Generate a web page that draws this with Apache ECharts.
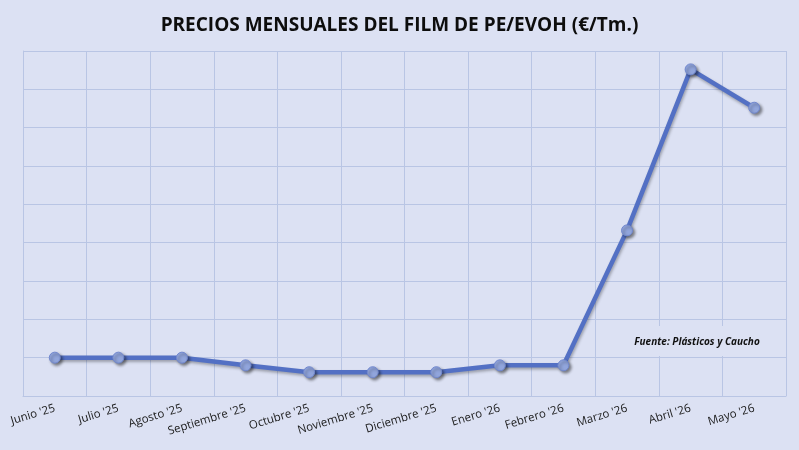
<!DOCTYPE html>
<html lang="es">
<head>
    <meta charset="UTF-8">
    <title>Precios film PE/EVOH</title>
    <script src="https://cdn.jsdelivr.net/npm/echarts@6/dist/echarts.min.js"></script>
    <style type="text/css">
        body {
            margin: 0;
        }

        #main {
            width: 799px;
            height: 450px;
        }
    </style>
</head>
<body>
    <div id="main"></div>
</body>
<script>
    // meses y precios (€/Tm)
    var months = ["Junio '25", "Julio '25", "Agosto '25", "Septiembre '25", "Octubre '25", "Noviembre '25",
        "Diciembre '25", "Enero '26", "Febrero '26", "Marzo '26", "Abril '26", "Mayo '26"];
    var prices = [3100, 3100, 3100, 3080, 3062, 3062, 3062, 3080, 3080, 3432, 3852, 3752];

    var yMin = 3000, yMax = 3900, yStep = 100;

    var gridColor = '#b9c5e4';

    var option = {
        backgroundColor: '#dce1f3',
        title: {
            text: 'PRECIOS MENSUALES DEL FILM DE PE/EVOH (€/Tm.)',
            left: 'center',
            top: 11,
            textStyle: {
                fontFamily: 'Open Sans',
                fontWeight: 'bold',
                fontSize: 19,
                color: '#0d0d0d'
            }
        },
        grid: {
            left: 23,
            right: 13,
            top: 51,
            bottom: 54
        },
        xAxis: {
            type: 'category',
            data: months,
            boundaryGap: true,
            axisLine: { lineStyle: { color: gridColor } },
            axisTick: { show: false },
            axisLabel: {
                interval: 0,
                rotate: 17,
                margin: 12,
                fontFamily: 'Open Sans',
                fontSize: 11.5,
                color: '#1a1a1a'
            },
            splitLine: {
                show: true,
                interval: 0,
                lineStyle: { color: gridColor, width: 1 }
            }
        },
        yAxis: {
            type: 'value',
            min: yMin,
            max: yMax,
            interval: yStep,
            axisLine: { show: true, lineStyle: { color: gridColor } },
            axisTick: { show: false },
            axisLabel: { show: false },
            splitLine: { lineStyle: { color: gridColor, width: 1 } }
        },
        graphic: [{
            type: 'rect',
            shape: { x: 626, y: 326, width: 159, height: 30 },
            style: { fill: '#dce1f3' },
            z: 50
        }, {
            type: 'text',
            x: 697,
            y: 342,
            z: 51,
            style: {
                text: 'Fuente: Plásticos y Caucho',
                fontFamily: 'Open Sans',
                fontStyle: 'italic',
                fontWeight: 'bold',
                fontSize: 10,
                fill: '#111',
                align: 'center',
                verticalAlign: 'middle'
            }
        }],
        series: [{
            type: 'line',
            data: prices,
            symbol: 'circle',
            symbolSize: 11,
            z: 60,
            lineStyle: {
                color: '#5370c4',
                width: 4.5,
                shadowColor: 'rgba(0,0,0,0.3)',
                shadowBlur: 3,
                shadowOffsetX: 1,
                shadowOffsetY: 2
            },
            itemStyle: {
                color: '#91a5dc',
                borderColor: '#7188cf',
                borderWidth: 1,
                shadowColor: 'rgba(0,0,0,0.45)',
                shadowBlur: 3,
                shadowOffsetX: 2,
                shadowOffsetY: 2
            }
        }]
    };

    var myChart = echarts.init(document.getElementById('main'));
    myChart.setOption(option);
</script>
</html>
